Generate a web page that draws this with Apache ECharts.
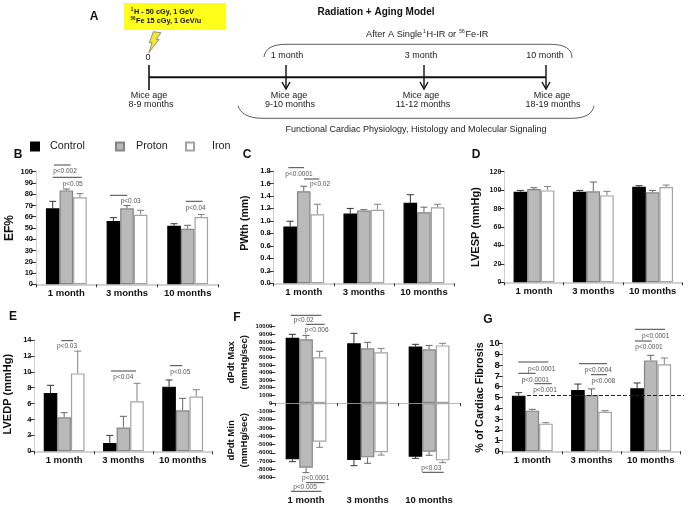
<!DOCTYPE html>
<html><head><meta charset="utf-8">
<style>html,body{margin:0;padding:0;background:#fff}#c{width:689px;height:507px}#c canvas{filter:blur(.35px)}</style>
<script src="https://cdn.jsdelivr.net/npm/echarts@6/dist/echarts.min.js"></script>
</head><body><div id="c"></div>
<script>
const categories = ['1 month','3 months','10 months'];
const groups = ['Control','Proton','Iron'];

// B: EF%
const efControl=[67.5,56.2,52], efControlTop=[73.7,59.2,53.8];
const efProton=[83.4,67.5,49.4], efProtonTop=[84.6,70,52.4];
const efIron=[77.2,61.8,59.8], efIronTop=[80.5,65.7,62];
// C: PWth
const pwControl=[0.91,1.12,1.29], pwControlTop=[0.995,1.2,1.42];
const pwProton=[1.476,1.166,1.14], pwProtonTop=[1.556,1.18,1.22];
const pwIron=[1.107,1.18,1.22], pwIronTop=[1.267,1.267,1.267];
// D: LVESP
const lvespControl=[98.3,98.3,103.7], lvespControlTop=[99.7,99.7,104.8];
const lvespProton=[101.2,98.7,97.6], lvespProtonTop=[102.6,108.8,99.7];
const lvespIron=[99.7,94.3,103.4], lvespIronTop=[104,98.7,105.5];
// E: LVEDP
const lvedpControl=[7.33,1.05,8.13], lvedpControlTop=[8.3,2,8.97];
const lvedpProton=[4.27,3,5.16], lvedpProtonTop=[4.86,4.4,6.66];
const lvedpIron=[9.8,6.29,6.9], lvedpIronTop=[12.6,8.55,7.75];
// F: dPdt Max / Min
const maxControl=[8560,7820,7420], maxControlTop=[9000,9130,7690];
const maxProton=[8340,7160,7030], maxProtonTop=[8860,7950,7550];
const maxIron=[5980,6640,7550], maxIronTop=[6770,7160,7820];
const minControl=[-6790,-6870,-6470], minControlTop=[-7070,-7550,-6670];
const minProton=[-7790,-6550,-5860], minProtonTop=[-8390,-7270,-6300];
const minIron=[-4660,-5940,-6910], minIronTop=[-5340,-6270,-7190];
// G: fibrosis
const fibControl=[5.17,5.7,5.85], fibControlTop=[5.45,6.25,6.35];
const fibProton=[3.78,5.23,8.45], fibProtonTop=[3.9,5.8,8.92];
const fibIron=[2.57,3.68,8.08], fibIronTop=[2.66,3.78,8.67];
const fibBaseline=5.2;

const FONT='"Liberation Sans",Arial,sans-serif';
const BAR_W=13.6;
const styles=[
 {color:'#000',borderColor:'#000',whisker:'#333'},
 {color:'#b9b9b9',borderColor:'#858585',whisker:'#666'},
 {color:'#fff',borderColor:'#a3a3a3',whisker:'#808080'}
];
const panels=[
 {id:'B',left:36,top:171.7,w:182,h:112.6,min:0,max:100,step:10,name:'EF%',nameSize:12,nameGap:19,tick:7.5,lab:9.5,
  vals:[efControl,efProton,efIron],tops:[efControlTop,efProtonTop,efIronTop]},
 {id:'C',left:273.7,top:171,w:180.3,h:112.3,min:0,max:1.8,step:0.2,name:'PWth (mm)',nameSize:10.5,nameGap:22,tick:7.5,lab:9.5,pad:8,dec:1,
  vals:[pwControl,pwProton,pwIron],tops:[pwControlTop,pwProtonTop,pwIronTop]},
 {id:'D',left:504.3,top:171.7,w:178,h:110.6,min:0,max:120,step:20,name:'LVESP (mmHg)',nameSize:11,nameGap:21,tick:7,lab:9.5,pad:0,
  vals:[lvespControl,lvespProton,lvespIron],tops:[lvespControlTop,lvespProtonTop,lvespIronTop]},
 {id:'E',left:32.3,top:340,w:180,h:111.3,min:0,max:14,step:2,name:'LVEDP (mmHg)',nameSize:11,nameGap:19,tick:7.5,lab:9.5,pad:3,
  vals:[lvedpControl,lvedpProton,lvedpIron],tops:[lvedpControlTop,lvedpProtonTop,lvedpIronTop]},
 {id:'G',left:502.7,top:343.7,w:177.6,h:107.6,min:0,max:10,step:1,name:'% of Cardiac Fibrosis',nameSize:10.8,nameGap:16,tick:9.5,lab:9.5,
  vals:[fibControl,fibProton,fibIron],tops:[fibControlTop,fibProtonTop,fibIronTop],base:fibBaseline},
 {id:'F1',left:275.3,top:326.7,w:184.5,h:76.3,min:0,max:10000,step:1000,name:'dPdt Max\n(mmHg/sec)',nameSize:9.5,nameGap:24,tick:6,lab:9.5,noXLabel:true,pad:5,noYLine:true,lineCol:'#aaa',plain:true,
  vals:[maxControl,maxProton,maxIron],tops:[maxControlTop,maxProtonTop,maxIronTop]},
 {id:'F2',left:275.3,top:403,w:184.5,h:74.7,min:-9000,max:0,step:1000,name:'dPdt Min\n(mmHg/sec)',nameSize:9.5,nameGap:24,tick:6,lab:9.5,xAtBottom:true,hideZero:true,noYLine:true,pad:0,plain:true,
  vals:[minControl,minProton,minIron],tops:[minControlTop,minProtonTop,minIronTop]}
];

const grid=[],xAxis=[],yAxis=[],series=[];
panels.forEach((p,i)=>{
 grid.push({left:p.left,top:p.top,width:p.w,height:p.h,containLabel:false});
 xAxis.push({type:'category',gridIndex:i,data:categories,z:p.plain?5:0,
  axisLine:{show:!p.xAtBottom,lineStyle:{color:p.lineCol||'#c4c4c4',width:p.plain?0.8:1.6},onZero:true},
  axisTick:{show:!p.xAtBottom,alignWithLabel:false,length:3,lineStyle:{color:'#333',width:1}},
  axisLabel:{show:!p.noXLabel,interval:0,margin:p.xAtBottom?18:4,color:'#111',fontFamily:FONT,fontWeight:'bold',fontSize:p.lab},
  splitLine:{show:false}});
 yAxis.push({type:'value',gridIndex:i,min:p.min,max:p.max,interval:p.step,
  name:p.name,nameLocation:'middle',nameGap:p.nameGap,nameMoveOverlap:false,
  nameTextStyle:{color:'#111',fontFamily:FONT,fontWeight:'bold',fontSize:p.nameSize,lineHeight:p.nameSize+3.5,padding:p.pad?[0,0,0,p.pad]:0},
  axisLine:{show:!p.noYLine,lineStyle:{color:'#d0d0d0',width:1}},
  axisTick:{show:true,length:5,lineStyle:{color:'#333',width:1}},
  axisLabel:{margin:3,color:'#111',fontFamily:FONT,fontWeight:'bold',fontSize:p.tick,showMaxLabel:!p.hideZero,
    formatter:p.dec?(v=>v.toFixed(p.dec)):(v=>String(v))},
  splitLine:{show:false}});
 groups.forEach((g,k)=>{
  const s={type:'bar',name:g,xAxisIndex:i,yAxisIndex:i,data:p.vals[k],barWidth:BAR_W,barGap:0,
   itemStyle:{color:styles[k].color,borderColor:styles[k].borderColor,borderWidth:1.2},z:2,silent:true};
  if(p.base!==undefined&&k===0){
   s.markLine={silent:true,symbol:'none',label:{show:false},animation:false,
    lineStyle:{color:'#222',type:'dashed',width:1},
    data:[[{x:527,yAxis:p.base},{x:684,yAxis:p.base}]]};
   s.z=3;
  }
  series.push(s);
  series.push({type:'custom',xAxisIndex:i,yAxisIndex:i,z:1,silent:true,
   data:p.tops[k].map((t,c)=>[c,p.vals[k][c],t]),encode:{x:0,y:[1,2]},
   renderItem:(params,api)=>{
    const a=api.coord([api.value(0),api.value(1)]),b=api.coord([api.value(0),api.value(2)]);
    const x=a[0]+(k-1)*BAR_W, col=styles[k].whisker;
    return {type:'group',children:[
     {type:'line',shape:{x1:x,y1:a[1],x2:x,y2:b[1]},style:{stroke:col,lineWidth:1}},
     {type:'line',shape:{x1:x-3.5,y1:b[1],x2:x+3.5,y2:b[1]},style:{stroke:col,lineWidth:1}}]};
   }});
 });
});

// Panel letters, significance brackets and the timeline diagram (panel A): annotation layout.
const letters=[['A',94,17],['B',18,155],['C',247,155],['D',476,155],['E',13,317],['F',237,318],['G',488,320]];
const pBars=[[54,70.7,165],[52.7,81.7,177.3],[110,127.3,195.3],[185.7,202.7,201.3],
 [288.3,304,167.7],[304,319.3,179],
 [61.3,73.3,340.7],[111,136,371],[170,182.3,365.7],
 [290.7,321.3,315.3],[306,324.7,324.3],[306,324.7,482.7],[291,321.3,491.3],[422.3,443.7,472.3],
 [518.3,548.3,362],[518.3,535.7,373.3],[534.3,551.7,383.7],[579,607,363.7],[591,607,374.7],[635,665,329.3],[635,651.7,341]];
const pTexts=[['p<0.002',65,171],['p<0.05',72.7,184],['p<0.03',130.7,201.3],['p<0.04',195.7,208.3],
 ['p<0.0001',299,174.3],['p<0.02',320,184.7],
 ['p<0.03',67,346.7],['p<0.04',123.3,377.7],['p<0.05',180.3,372.3],
 ['p<0.02',303.7,320.7],['p<0.006',316.7,330.7],['p<0.0001',315.7,478.7],['p<0.005',305,487],['p<0.03',431.3,468.7],
 ['p<0.0001',541.7,369.3],['p<0.0001',535.3,380],['p<0.001',545,390.7],['p<0.0004',598.3,370.7],['p<0.008',603.3,381.7],['p<0.0001',655.7,336.7],['p<0.0001',649,347.7]];
const diagramTexts=[['1 month',287,56],['3 month',421,56],['10 month',545,56],['0',148,58],
 ['Mice age',149,96],['8-9 months',151,105],['Mice age',289,96],['9-10 months',290,105],
 ['Mice age',421,96],['11-12 months',423,105],['Mice age',552,96],['18-19 months',553,105],
 ['Functional Cardiac Physiology, Histology and Molecular Signaling',416,129.3]];

const txt=(t,x,y,size,color,weight,align)=>({type:'text',silent:true,x,y,style:{text:t,x:0,y:0,fill:color||'#222',
  font:(weight||'normal')+' '+size+'px '+FONT,fontFamily:FONT,fontSize:size,fontWeight:weight||'normal',align:align||'center',verticalAlign:'middle'}});
const line=(x1,y1,x2,y2,w,c)=>({type:'line',silent:true,shape:{x1,y1,x2,y2},style:{stroke:c||'#111',lineWidth:w||1}});
const curve=(x1,y1,cpx1,cpy1,cpx2,cpy2,x2,y2)=>({type:'bezierCurve',silent:true,shape:{x1,y1,x2,y2,cpx1,cpy1,cpx2,cpy2},style:{stroke:'#333',lineWidth:0.8,fill:null}});
const g=[];
letters.forEach(l=>g.push(txt(l[0],l[1],l[2],12,'#111','bold')));
pBars.forEach(b=>g.push(line(b[0],b[2],b[1],b[2],1,'#444')));
pTexts.forEach(t=>g.push(txt(t[0],t[1],t[2],6.5,'#555')));
diagramTexts.forEach(t=>g.push(txt(t[0],t[1],t[2],9,'#222')));
g.push(txt('Radiation + Aging Model',376,12,10,'#111','bold'));
// yellow dose box
g.push({type:'rect',silent:true,shape:{x:124,y:3,width:102,height:27},style:{fill:'#ffff19'}});
g.push(txt('1',132,9.5,4.5,'#111','bold'));
g.push(txt('H - 50 cGy, 1 GeV',134,11.5,7.3,'#111','bold','left'));
g.push(txt('56',133,19,4.5,'#111','bold'));
g.push(txt('Fe 15 cGy, 1 GeV/u',136,21,7.3,'#111','bold','left'));
// lightning
g.push({type:'polygon',silent:true,shape:{points:[[153.3,31.7],[160.9,32.7],[156.4,39.3],[159.1,39.3],[148.9,52.7],[152,42.7],[149.3,42.7]]},style:{fill:'#f2e53a',stroke:'#555',lineWidth:0.6}});
// subtitle with superscripts
g.push(txt('After A Single ',366,34,9.2,'#222','normal','left'));
g.push(txt('1',424.5,32,5,'#222'));
g.push(txt('H-IR or ',426.5,34,9.2,'#222','normal','left'));
g.push(txt('56',462,32,5,'#222'));
g.push(txt('Fe-IR',465.5,34,9.2,'#222','normal','left'));
// brackets
g.push(curve(264,57,265,49,272,44.3,286,44.3));
g.push(line(286,44.3,550,44.3,0.8,'#333'));
g.push(curve(550,44.3,565,44.3,572,49,572,58));
g.push(curve(238,105.7,240,113,248,118.3,262,118.3));
g.push(line(262,118.3,572,118.3,0.8,'#333'));
g.push(curve(572,118.3,586,118.3,593,113,594,105.7));
// timeline
g.push(line(149,77.3,546,77.3,2,'#111'));
g.push(line(149,65,149,90,1.6,'#111'));
[286,424,546].forEach(x=>{
 g.push(line(x,65,x,88.5,1.4,'#111'));
 g.push({type:'polyline',silent:true,shape:{points:[[x-4,82],[x,89],[x+4,82]]},style:{stroke:'#111',lineWidth:1.4,fill:null}});
});

const legend=[['Control',30,6],['Proton',115,7],['Iron',185,13]].map(l=>({
 data:[l[0]],left:l[1],top:141,itemWidth:8,itemHeight:8,icon:'rect',orient:'horizontal',padding:0,selectedMode:false,
 textStyle:{fontFamily:FONT,fontSize:10.8,color:'#222',padding:[0,0,0,l[2]]}}));

const chart=echarts.init(document.getElementById('c'),null,{renderer:'canvas'});
chart.setOption({animation:false,backgroundColor:'#fff',textStyle:{fontFamily:FONT},legend,grid,xAxis,yAxis,series,graphic:{elements:g}});
</script></body></html>
